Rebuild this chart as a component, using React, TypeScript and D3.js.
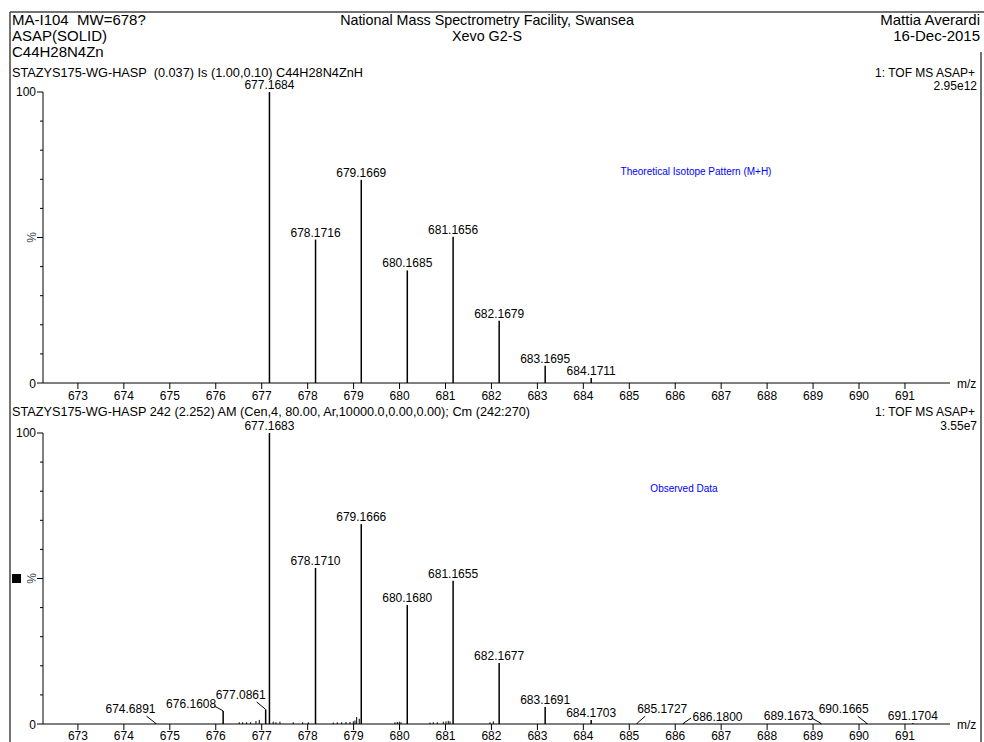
import React from "react";
import * as d3 from "d3";

// ---------- DATA ----------
const headerLeft = ["MA-I104  MW=678?", "ASAP(SOLID)", "C44H28N4Zn"];
const headerCenter = ["National Mass Spectrometry Facility, Swansea", "Xevo G2-S"];
const headerRight = ["Mattia Averardi", "16-Dec-2015"];

const topTitle = "STAZYS175-WG-HASP  (0.037) Is (1.00,0.10) C44H28N4ZnH";
const topInfo = ["1: TOF MS ASAP+", "2.95e12"];
const topNote = "Theoretical Isotope Pattern (M+H)";
const bottomTitle = "STAZYS175-WG-HASP 242 (2.252) AM (Cen,4, 80.00, Ar,10000.0,0.00,0.00); Cm (242:270)";
const bottomInfo = ["1: TOF MS ASAP+", "3.55e7"];
const bottomNote = "Observed Data";

const xTicks = [673, 674, 675, 676, 677, 678, 679, 680, 681, 682, 683, 684, 685, 686, 687, 688, 689, 690, 691];

// theoretical isotope pattern
const theoMz = [677.1684, 678.1716, 679.1669, 680.1685, 681.1656, 682.1679, 683.1695, 684.1711];
const theoInt = [100, 49.3, 69.8, 38.7, 50.3, 21.4, 5.9, 1.7];

// observed labelled peaks
const obsMz = [674.6891, 676.1608, 677.0861, 677.1683, 678.171, 679.1666, 680.168, 681.1655, 682.1677, 683.1691, 684.1703, 685.1727, 686.18, 689.1673, 690.1665, 691.1704];
const obsInt = [0.3, 4.5, 5.0, 100, 53.6, 68.7, 40.9, 49.2, 21.0, 5.8, 1.4, 0.3, 0.3, 0.3, 0.3, 0.3];

// observed unlabelled minor peaks (noise)
const noiseMz = [676.511, 676.585, 676.672, 676.759, 676.875, 676.947, 677.251, 677.31, 677.397, 677.687, 677.891, 678.013, 678.557, 678.644, 678.74, 678.834, 678.921, 678.993, 679.03, 679.067, 679.123, 679.9, 679.95, 679.994, 680.031, 680.662, 680.734, 680.821, 680.952, 681.011, 681.06, 681.098, 681.968, 682.04];
const noiseInt = [0.6, 0.6, 0.6, 0.6, 1.0, 1.4, 0.8, 0.6, 0.8, 0.6, 0.6, 0.6, 0.5, 0.6, 0.6, 0.7, 0.7, 0.9, 1.2, 2.4, 1.8, 0.6, 0.7, 0.8, 0.6, 0.5, 0.6, 0.6, 0.8, 0.9, 1.1, 0.9, 0.6, 0.9];

// label layout for displaced observed labels (px offsets from peak top)
const labelLayout: Record<string, { dx: number; dy: number; ax: number; ay: number }> = {
  "674.6891": { dx: -25, dy: -10, ax: -9, ay: -7 },
  "676.1608": { dx: -32, dy: -3, ax: -9, ay: -5 },
  "677.0861": { dx: -25, dy: -10.5, ax: -9, ay: -7.5 },
  "685.1727": { dx: 25, dy: -10, ax: 8, ay: -7 },
  "686.1800": { dx: 34, dy: -2.5, ax: 7.5, ay: -5 },
  "689.1673": { dx: -32, dy: -3, ax: -9, ay: -5 },
  "690.1665": { dx: -23, dy: -10, ax: -9, ay: -7 },
};

// ---------- LAYOUT ----------
const W = 984;
const H = 742;
const FONT = "'Liberation Sans', Arial, sans-serif";
const x = d3.scaleLinear().domain([672.24, 691.98]).range([43, 950]);
const yTop = d3.scaleLinear().domain([0, 100]).range([383, 92]);
const yBot = d3.scaleLinear().domain([0, 100]).range([724, 433]);
const yTicks = d3.range(0, 101, 10);

function Axes({ y, labelY }: { y: d3.ScaleLinear<number, number>; labelY: number }) {
  const y0 = y(0);
  return (
    <g>
      <line x1={43} x2={43} y1={y(100)} y2={y0} stroke="#000" strokeWidth={1} />
      <line x1={43} x2={950} y1={y0} y2={y0} stroke="#000" strokeWidth={1} />
      {yTicks.map((t) => (
        <line key={t} x1={t % 50 === 0 ? 37 : 40} x2={43} y1={y(t)} y2={y(t)} stroke="#000" strokeWidth={1} />
      ))}
      <text x={36} y={y(100) + 4} textAnchor="end" fontSize={12} fontFamily={FONT}>100</text>
      <text x={36} y={y0 + 5} textAnchor="end" fontSize={12} fontFamily={FONT}>0</text>
      <text transform={`translate(36,${y(50)}) rotate(-90)`} textAnchor="middle" fontSize={12} fontFamily={FONT} fill="#445">%</text>
      {xTicks.map((t) => (
        <g key={t}>
          <line x1={x(t)} x2={x(t)} y1={y0} y2={y0 + 6} stroke="#000" strokeWidth={1} />
          <text x={x(t)} y={labelY} textAnchor="middle" fontSize={12} fontFamily={FONT}>{t}</text>
        </g>
      ))}
      <text x={957} y={y0 + 5} fontSize={12} fontFamily={FONT}>m/z</text>
    </g>
  );
}

const pre = { whiteSpace: "pre" as const };

export default function App() {
  return (
    <svg width={W} height={H} style={{ position: "absolute", left: 0, top: 0, background: "#fff" }} fontFamily={FONT}>
      <rect width={W} height={H} fill="#fff" />
      {/* frame */}
      <line x1={10} x2={W} y1={12} y2={12} stroke="#444" strokeWidth={1.5} />
      <line x1={10} x2={10} y1={12} y2={H} stroke="#444" strokeWidth={1.5} />
      <line x1={981} x2={981} y1={52} y2={H} stroke="#444" strokeWidth={1.5} />

      {/* header */}
      {headerLeft.map((s, i) => (
        <text key={s} x={12} y={25 + i * 16} fontSize={15} style={pre} xmlSpace="preserve">{s}</text>
      ))}
      {headerCenter.map((s, i) => (
        <text key={s} x={487} y={25 + i * 16} fontSize={14.3} textAnchor="middle">{s}</text>
      ))}
      {headerRight.map((s, i) => (
        <text key={s} x={980} y={25 + i * 16} fontSize={15} textAnchor="end">{s}</text>
      ))}

      {/* top panel */}
      <text x={12} y={77} fontSize={12} style={pre} xmlSpace="preserve" textLength={351} lengthAdjust="spacingAndGlyphs">{topTitle}</text>
      <text x={975} y={77} fontSize={12} textAnchor="end">{topInfo[0]}</text>
      <text x={977} y={90} fontSize={12} textAnchor="end">{topInfo[1]}</text>
      <text x={696} y={175} fontSize={10} textAnchor="middle" fill="#0000ff">{topNote}</text>
      <Axes y={yTop} labelY={400} />
      {theoMz.map((m, i) => (
        <g key={m}>
          <line x1={x(m)} x2={x(m)} y1={yTop(0)} y2={yTop(theoInt[i])} stroke="#000" strokeWidth={1.5} />
          <text x={x(m)} y={yTop(theoInt[i]) - 3} fontSize={12} textAnchor="middle">{m.toFixed(4)}</text>
        </g>
      ))}

      {/* bottom panel */}
      <text x={12} y={416} fontSize={12} textLength={518} lengthAdjust="spacingAndGlyphs">{bottomTitle}</text>
      <text x={975} y={416} fontSize={12} textAnchor="end">{bottomInfo[0]}</text>
      <text x={977} y={430} fontSize={12} textAnchor="end">{bottomInfo[1]}</text>
      <text x={684} y={492} fontSize={10} textAnchor="middle" fill="#0000ff">{bottomNote}</text>
      <rect x={12} y={574} width={9} height={9} fill="#000" />
      <Axes y={yBot} labelY={740} />
      {noiseMz.map((m, i) => (
        <line key={m} x1={x(m)} x2={x(m)} y1={yBot(0)} y2={yBot(noiseInt[i])} stroke="#000" strokeWidth={1} />
      ))}
      {obsMz.map((m, i) => {
        const px = x(m);
        const top = yBot(obsInt[i]);
        const lab = m.toFixed(4);
        const lay = labelLayout[lab];
        return (
          <g key={m}>
            <line x1={px} x2={px} y1={yBot(0)} y2={top} stroke="#000" strokeWidth={1.5} />
            {lay ? (
              <>
                <text x={px + lay.dx} y={top + lay.dy} fontSize={12} textAnchor="middle">{lab}</text>
                <line x1={px + lay.ax} y1={top + lay.ay} x2={px} y2={top} stroke="#000" strokeWidth={1} />
              </>
            ) : (
              <text x={px} y={top - 3} fontSize={12} textAnchor="middle">{lab}</text>
            )}
          </g>
        );
      })}
    </svg>
  );
}
